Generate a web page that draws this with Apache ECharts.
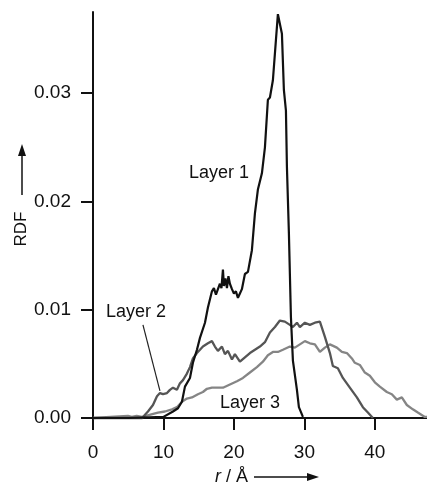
<!DOCTYPE html>
<html>
<head>
<meta charset="utf-8">
<script src="https://cdn.jsdelivr.net/npm/echarts@6/dist/echarts.min.js"></script>
<style>
html,body{margin:0;padding:0;background:#fff;}
#chart{width:427px;height:486px;}
</style>
</head>
<body>
<div id="chart"></div>
<script>
// ---- data ----
var layer1R   = [0, 5, 10.0, 11.35, 12.06, 12.62, 13.05, 13.76, 14.18, 14.75, 15.18, 15.89, 16.31, 16.88, 17.16, 17.45, 17.73, 18.01, 18.23, 18.44, 18.58, 18.80, 19.01, 19.22, 19.43, 19.72, 20.00, 20.28, 20.57, 20.85, 21.13, 21.56, 21.99, 22.55, 22.98, 23.40, 23.97, 24.40, 24.82, 25.11, 25.53, 25.96, 26.24, 26.52, 26.81, 27.09, 27.38, 27.52, 27.80, 28.09, 28.37, 28.94, 29.22, 29.79];
var layer1RDF = [0, 0, 0.0001, 0.0006, 0.0009, 0.0015, 0.0029, 0.0037, 0.0051, 0.0063, 0.0074, 0.0088, 0.0102, 0.0117, 0.0120, 0.0114, 0.0119, 0.0124, 0.0120, 0.0137, 0.0122, 0.0129, 0.0120, 0.0131, 0.0124, 0.0119, 0.0115, 0.0117, 0.0111, 0.0115, 0.0119, 0.0133, 0.0135, 0.0155, 0.0189, 0.0211, 0.0226, 0.0250, 0.0294, 0.0296, 0.0312, 0.0349, 0.0373, 0.0373, 0.0355, 0.0303, 0.0284, 0.0232, 0.0171, 0.0093, 0.0053, 0.0026, 0.0010, 0.0001];

var layer2R   = [0, 7.0, 7.38, 7.80, 8.51, 9.08, 9.50, 9.93, 10.50, 10.92, 11.35, 11.91, 12.34, 12.77, 13.33, 13.76, 14.18, 14.75, 15.18, 15.60, 16.31, 16.88, 17.30, 17.73, 18.30, 18.72, 19.15, 19.72, 20.14, 20.85, 21.56, 22.27, 22.98, 23.69, 24.40, 25.11, 25.82, 26.52, 27.23, 27.94, 28.37, 28.94, 29.36, 30.07, 30.78, 31.49, 32.20, 32.91, 33.62, 34.04, 34.75, 35.46, 36.45, 37.45, 38.30, 39.01, 39.72];
var layer2RDF = [0, 0, 0.0003, 0.0006, 0.0012, 0.0020, 0.0023, 0.0022, 0.0023, 0.0026, 0.0028, 0.0026, 0.0032, 0.0035, 0.0041, 0.0047, 0.0055, 0.0060, 0.0063, 0.0066, 0.0069, 0.0071, 0.0066, 0.0062, 0.0066, 0.0059, 0.0062, 0.0054, 0.0059, 0.0052, 0.0056, 0.0060, 0.0063, 0.0066, 0.0070, 0.0079, 0.0084, 0.0090, 0.0089, 0.0086, 0.0084, 0.0088, 0.0084, 0.0088, 0.0086, 0.0088, 0.0089, 0.0075, 0.0060, 0.0048, 0.0046, 0.0037, 0.0028, 0.0019, 0.0010, 0.0005, 0];

var layer3R   = [0, 4.96, 5.5, 6.2, 6.95, 9.22, 10.21, 11.21, 11.91, 12.62, 13.33, 14.04, 14.89, 15.60, 16.17, 16.88, 17.59, 18.44, 19.43, 20.43, 21.28, 22.27, 23.26, 24.11, 24.82, 25.53, 26.24, 26.95, 27.94, 28.65, 29.36, 30.07, 30.78, 31.49, 32.20, 32.91, 33.62, 34.61, 35.32, 36.03, 36.74, 37.16, 37.87, 38.58, 39.29, 40.00, 40.71, 41.70, 42.41, 43.12, 43.83, 44.54, 45.39, 46.10, 47.09, 47.4];
var layer3RDF = [0, 0.0002, 0.0001, 0.0002, 0.0001, 0.0005, 0.0006, 0.0008, 0.0010, 0.0015, 0.0018, 0.0019, 0.0022, 0.0024, 0.0027, 0.0028, 0.0028, 0.0028, 0.0031, 0.0034, 0.0037, 0.0042, 0.0047, 0.0052, 0.0058, 0.0061, 0.0061, 0.0063, 0.0066, 0.0065, 0.0068, 0.0071, 0.0069, 0.0068, 0.0061, 0.0065, 0.0068, 0.0065, 0.0061, 0.0060, 0.0055, 0.0051, 0.0049, 0.0042, 0.0039, 0.0033, 0.0029, 0.0024, 0.0022, 0.0017, 0.0019, 0.0012, 0.0008, 0.0005, 0.0001, 0.0001];

var xTicks = [0, 10, 20, 30, 40];
var yTicks = [0, 0.01, 0.02, 0.03];
var seriesNames = ['Layer 1', 'Layer 2', 'Layer 3'];
// label anchors in data units [r, RDF]
var labelPos = [[17.87, 0.0226], [6.10, 0.0098], [22.27, 0.0014]];
var arrowFrom = [7.09, 0.0086];
var arrowTo = [9.50, 0.0025];

function pairs(xs, ys) { return xs.map(function (x, i) { return [x, ys[i]]; }); }

var FONT = '"Liberation Sans", Arial, Helvetica, sans-serif';
var chart = echarts.init(document.getElementById('chart'), null, {renderer: 'canvas'});

function labelPoint(idx) {
  return {
    symbol: 'rect', symbolSize: [1, 1],
    itemStyle: {color: 'rgba(0,0,0,0)'},
    label: {show: true, position: 'inside', formatter: '{b}', color: '#111', fontSize: 18, fontFamily: FONT},
    data: [{name: seriesNames[idx], coord: labelPos[idx]}]
  };
}

var option = {
  animation: false,
  backgroundColor: '#fff',
  grid: {left: 93, right: 0, top: 12, bottom: 68, containLabel: false},
  xAxis: {
    type: 'value', min: 0, max: 47.4, interval: 10, offset: 3,
    axisLine: {show: true, lineStyle: {color: '#111', width: 2}},
    axisTick: {show: true, length: 12, customValues: xTicks, lineStyle: {color: '#111', width: 2}},
    axisLabel: {customValues: xTicks, margin: 22, fontSize: 19, color: '#111', fontFamily: FONT},
    splitLine: {show: false}
  },
  yAxis: {
    type: 'value', min: 0, max: 0.0375, interval: 0.01, offset: 3,
    axisLine: {show: true, lineStyle: {color: '#111', width: 2}},
    axisTick: {show: true, length: 12, customValues: yTicks, lineStyle: {color: '#111', width: 2}},
    axisLabel: {customValues: yTicks, margin: 19, fontSize: 19, color: '#111', fontFamily: FONT,
      formatter: function (v) { return v.toFixed(2); }},
    splitLine: {show: false}
  },
  series: [
    {
      name: seriesNames[2], type: 'line', data: pairs(layer3R, layer3RDF), showSymbol: false, z: 2,
      lineStyle: {color: '#858585', width: 2.3}, clip: false,
      markPoint: labelPoint(2)
    },
    {
      name: seriesNames[1], type: 'line', data: pairs(layer2R, layer2RDF), showSymbol: false, z: 3,
      lineStyle: {color: '#555', width: 2.3}, clip: false,
      markPoint: labelPoint(1),
      markLine: {
        silent: true, symbol: ['none', 'arrow'], symbolSize: [0, 11],
        lineStyle: {color: '#222', width: 1.2, type: 'solid'},
        label: {show: false},
        data: [[{coord: arrowFrom}, {coord: arrowTo}]]
      }
    },
    {
      name: seriesNames[0], type: 'line', data: pairs(layer1R, layer1RDF), showSymbol: false, z: 4,
      lineStyle: {color: '#111', width: 2.2}, clip: false,
      markPoint: labelPoint(0)
    }
  ],
  graphic: [
    {type: 'text', x: 21, y: 229, rotation: Math.PI / 2,
      style: {text: 'RDF', fontSize: 17, fontFamily: FONT, fill: '#111', align: 'center', verticalAlign: 'middle'}},
    {type: 'line', shape: {x1: 22, y1: 195, x2: 22, y2: 153}, style: {stroke: '#111', lineWidth: 1.5}},
    {type: 'polygon', shape: {points: [[22, 144], [18, 156], [26, 156]]}, style: {fill: '#111'}},
    {type: 'text', x: 215, y: 477,
      style: {rich: {i: {fontStyle: 'italic', fontSize: 18, fontFamily: FONT, fill: '#111'},
                     n: {fontSize: 18, fontFamily: FONT, fill: '#111'}},
              text: '{i|r}{n| / Å}', verticalAlign: 'middle', align: 'left'}},
    {type: 'line', shape: {x1: 254, y1: 477, x2: 310, y2: 477}, style: {stroke: '#111', lineWidth: 1.5}},
    {type: 'polygon', shape: {points: [[319, 477], [307, 473], [307, 481]]}, style: {fill: '#111'}}
  ]
};
chart.setOption(option);
</script>
</body>
</html>
